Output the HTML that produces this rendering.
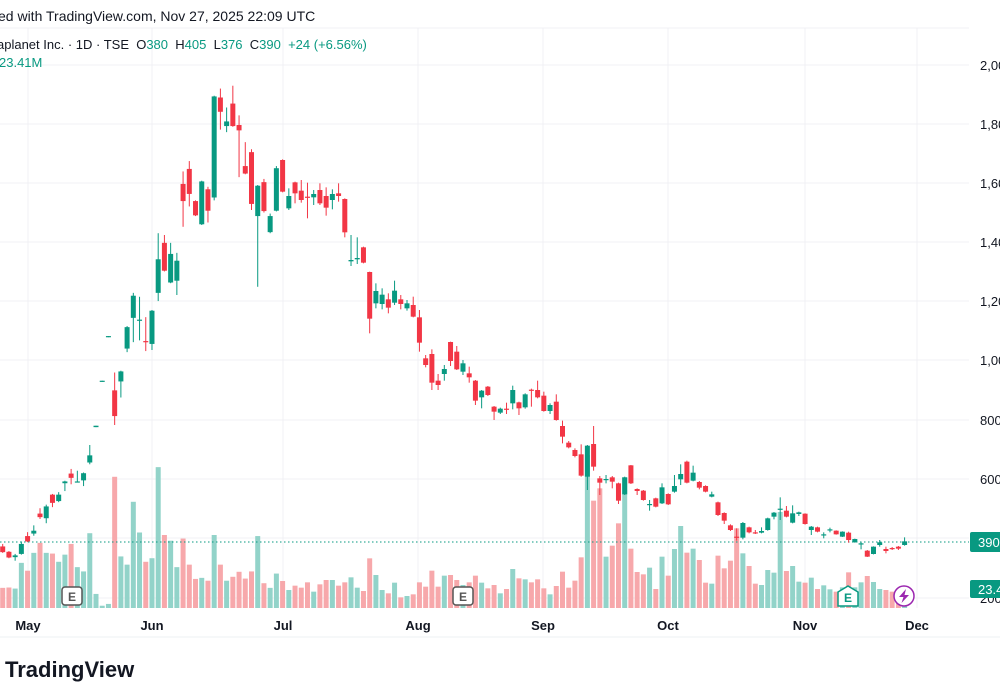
<!DOCTYPE html>
<html><head><meta charset="utf-8"><style>
html,body{margin:0;padding:0;background:#fff;width:1000px;height:700px;overflow:hidden}
svg text{font-family:"Liberation Sans",sans-serif;white-space:pre}
</style></head><body>
<svg id="s" width="1000" height="700" viewBox="0 0 1000 700" xmlns="http://www.w3.org/2000/svg">
<rect width="1000" height="700" fill="#fff"/>
<g id="grid" stroke="#f0f1f4" stroke-width="1"></g>
<g id="vol"></g>
<line x1="0" y1="542" x2="969" y2="542" stroke="#089981" stroke-width="1" stroke-dasharray="1.5,2.5"/>
<g id="cdl"></g>
<text x="-2" y="21" font-size="14" fill="#131722">ed with TradingView.com, Nov 27, 2025 22:09 UTC</text>
<text x="-3" y="49" font-size="13" fill="#131722">aplanet Inc. · 1D · TSE  O<tspan fill="#089981">380</tspan>  H<tspan fill="#089981">405</tspan>  L<tspan fill="#089981">376</tspan>  C<tspan fill="#089981">390</tspan>  <tspan fill="#089981">+24 (+6.56%)</tspan></text>
<text x="-1" y="67" font-size="13" fill="#089981">23.41M</text>
<g font-size="13" fill="#131722">
<text x="980" y="70">2,000</text><text x="980" y="129">1,800</text><text x="980" y="188">1,600</text>
<text x="980" y="247">1,400</text><text x="980" y="306">1,200</text><text x="980" y="365">1,000</text>
<text x="980" y="425">800</text><text x="980" y="484">600</text><text x="980" y="603">200</text>
</g>
<rect x="970" y="532" width="32" height="20" rx="2" fill="#089981"/>
<text x="978" y="547" font-size="13" fill="#fff">390</text>
<rect x="970" y="580" width="32" height="18" rx="2" fill="#089981"/>
<text x="978" y="594" font-size="13" fill="#fff">23.41</text>
<g font-size="13" font-weight="bold" fill="#131722" text-anchor="middle">
<text x="28" y="630">May</text><text x="152" y="630">Jun</text><text x="283" y="630">Jul</text>
<text x="418" y="630">Aug</text><text x="543" y="630">Sep</text><text x="668" y="630">Oct</text>
<text x="805" y="630">Nov</text><text x="917" y="630">Dec</text>
</g>
<line x1="0" y1="637" x2="1000" y2="637" stroke="#eef0f3"/>
<text x="5" y="677" font-size="22" font-weight="bold" fill="#131722">TradingView</text>
<g>
<rect x="62" y="587" width="20" height="18" rx="3" fill="#fff" stroke="#555" stroke-width="1.5"/>
<text x="72" y="601" font-size="12" font-weight="bold" fill="#555" text-anchor="middle">E</text>
<rect x="453" y="587" width="20" height="18" rx="3" fill="#fff" stroke="#555" stroke-width="1.5"/>
<text x="463" y="601" font-size="12" font-weight="bold" fill="#555" text-anchor="middle">E</text>
<path d="M838 592 L848 586 L858 592 L858 606 L838 606 Z" fill="#fff" stroke="#089981" stroke-width="1.5"/>
<text x="848" y="602" font-size="12" font-weight="bold" fill="#089981" text-anchor="middle">E</text>
<circle cx="904" cy="596" r="10" fill="#fff" stroke="#9c27b0" stroke-width="1.5"/>
<polygon points="906,589 899,597 903.5,597 901.5,603 909,595 904.5,595" fill="#9c27b0"/>
</g>
</svg>
<script>
var NS="http://www.w3.org/2000/svg";
function el(p,t,a){var e=document.createElementNS(NS,t);for(var k in a)e.setAttribute(k,a[k]);p.appendChild(e);return e;}
var grid=document.getElementById('grid');
[65,124,183,242,301,360,420,479,538,598].forEach(function(y){el(grid,'line',{x1:0,y1:y,x2:969,y2:y});});
[28,152,283,418,543,668,805,917].forEach(function(x){el(grid,'line',{x1:x,y1:28,x2:x,y2:608});});
el(grid,'line',{x1:0,y1:28,x2:969,y2:28});
var A=[['r',1362,1378,1355,1380],['r',1377,1393,1375,1395],['g',1387,1392,1383,1402],['g',1355,1383,1348,1385],['r',1333,1348,1322,1350],['g',1318,1326,1303,1332],['r',1270,1280,1255,1285],['g',1250,1283,1245,1297],['r',1217,1240,1215,1252],['g',1217,1235,1210,1238],['g',1180,1185,1178,1207],['r',1158,1170,1145,1188],['g',1180,1183,1150,1183],['g',1157,1177,1155,1193],['g',1107,1127,1078,1132],['g',1024,1028,1024,1028],['g',898,901,898,901],['g',773,776,773,776],['r',925,997,875,1022],['g',872,900,870,945],['g',748,808,745,818],['g',660,722,652,790],['g',727,730,663,785],['r',787,790,720,815],['g',702,795,700,812],['g',558,652,485,675],['r',512,590,490,592],['g',543,623,512,625],['g',562,618,540,658],['r',347,395,312,467],['r',305,375,283,410],['r',395,435,393,437],['g',340,460,338,462],['r',362,422,355,455],['g',102,385,100,393],['r',105,145,80,195],['g',172,185,133,202],['r',122,185,72,187],['r',182,197,155,328],['r',297,318,230,320],['r',258,403,250,420],['g',352,437,350,635],['r',342,423,333,427],['g',437,482,430,485],['g',303,422,297,424]];
var B=[['r',30,125,28,127],['g',138,175,115,180],['r',97,130,95,160],['r',122,150,90,158],['r',140,143,98,205],['g',132,142,120,165],['r',120,160,100,165],['r',138,173,112,197],['g',132,150,118,178],['r',130,138,100,155],['r',147,247,145,262],['g',330,334,255,348],['g',324,328,262,342],['r',292,338,290,340],['r',366,506,365,550],['g',423,460,400,475],['g',434,462,415,478],['r',448,473,430,490],['g',422,458,392,465],['r',448,462,435,478],['g',460,475,450,482],['r',465,500,440,502],['r',502,578,480,605],['r',625,645,615,652],['r',612,698,598,720],['r',692,705,672,720],['g',657,672,645,692],['r',576,633,575,648],['r',605,658,588,660],['g',640,665,630,675],['r',670,682,650,698],['r',692,752,690,765],['g',722,742,720,775],['r',710,735,708,738],['r',770,785,768,810],['g',776,788,773,792],['r',776,779,758,792],['g',720,760,707,778],['r',757,775,755,795],['g',733,772,730,776],['r',719,722,716,770],['r',720,742,692,745],['r',737,783,725,785],['g',765,783,760,792],['r',755,810,733,812]];
var C=[['r',78,110,62,130],['r',128,142,123,145],['r',150,168,145,172],['r',163,227,133,230],['g',137,230,135,270],['r',132,200,78,212],['r',235,248,228,285],['g',237,240,225,250],['r',232,245,228,265],['r',250,302,248,312],['g',232,283,230,285],['r',196,250,195,252],['r',267,273,265,285],['r',272,300,270,302],['g',312,315,300,332],['r',295,320,293,322],['g',262,310,250,312],['r',282,313,280,315],['g',258,275,225,278],['g',222,238,193,255],['r',185,248,182,250],['g',218,242,197,244],['r',246,263,243,268],['r',258,275,256,277],['g',283,290,275,292],['r',307,345,305,348],['r',339,362,337,372],['r',376,390,373,393],['r',410,412,385,422],['g',369,413,366,418],['r',382,397,380,400],['r',397,399,390,402],['g',393,398,382,400],['g',355,390,353,392],['g',338,350,336,358],['g',326,328,292,360],['r',332,350,318,352],['g',340,368,316,370],['g',337,342,335,348],['r',341,372,340,374],['g',380,390,378,405],['r',382,395,380,397]];
var D=[['g',103,106,97,115],['g',88,91,83,97],['r',92,103,91,104],['g',95,110,94,111],['r',98,120,95,128],['g',117,127,116,128],['g',130,132,125,148],['r',152,170,150,171],['g',140,162,139,163],['g',127,135,120,140],['r',147,153,140,160],['r',144,146,141,150],['r',140,146,138,150],['g',124,135,112,137]];
var VA=[1478,1477,1480,1408,1430,1380,1352,1380,1382,1405,1385,1355,1420,1432,1325,1495,1528,1523,1167,1390,1413,1237,1323,1405,1395,1140,1330,1346,1420,1340,1413,1453,1450,1458,1330,1413,1458,1447,1433,1452,1432,1333,1465,1478,1438];
var VB=[1293,1320,1307,1313,1297,1325,1303,1290,1290,1307,1297,1282,1313,1323,1225,1275,1320,1330,1298,1342,1338,1333,1297,1310,1262,1310,1277,1275,1290,1305,1297,1277,1298,1315,1305,1330,1317,1257,1285,1288,1297,1288,1315,1333,1308];
var VC=[515,563,542,472,165,302,265,470,437,370,232,446,516,523,503,567,470,527,447,378,458,446,480,548,551,467,505,482,385,460,498,551,555,510,518,336,513,498,545,548,533,567];
var VD=[256,268,275,262,217,262,247,228,246,267,270,275,290,300];
var cs=[],vs=[];
function add(arr,v,off,sc){arr.forEach(function(c,i){cs.push([c[0],off+c[1]/sc,off+c[2]/sc,off+c[3]/sc,off+c[4]/sc]);vs.push(off+v[i]/sc);});}
add(A,VA,60,2.8);add(B,VB,150,3);add(C,VC,400,3);add(D,VD,500,3);
var cg=document.getElementById('cdl'),vg=document.getElementById('vol');
cs.forEach(function(c,i){
 var x=2.7+i*6.22;
 var col=c[0]=='g'?'#089981':'#f23645';
 var vcol=c[0]=='g'?'#92d3c9':'#f7a8ab';
 var vy=vs[i];
 el(vg,'rect',{x:x-2.5,y:vy,width:5,height:608-vy,fill:vcol});
 el(cg,'line',{x1:x,y1:c[3],x2:x,y2:c[4],stroke:col,'stroke-width':1});
 var h=Math.max(1.2,c[2]-c[1]);
 el(cg,'rect',{x:x-2.5,y:c[1],width:5,height:h,fill:col});
});
</script>
</body></html>
